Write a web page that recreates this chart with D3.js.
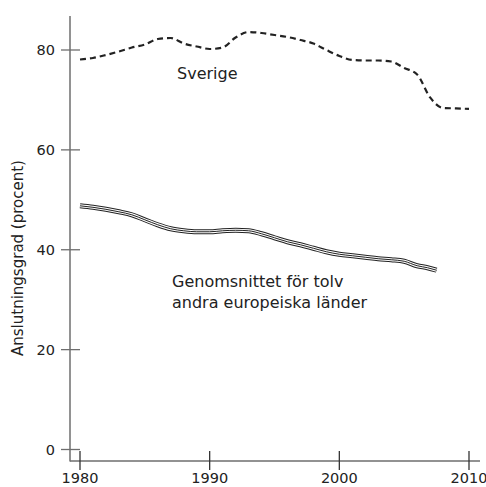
<!DOCTYPE html>
<html>
<head>
<meta charset="utf-8">
<script src="https://d3js.org/d3.v7.min.js"></script>
<style>
  body { margin: 0; background: #fff; }
  text { font-family: "DejaVu Sans", sans-serif; fill: #222; }
</style>
</head>
<body>
<svg id="svg" width="486" height="487"></svg>
<script>
// DATA
const years = d3.range(1980, 2011)
const sverige = [78.1, 78.4, 79.0, 79.7, 80.5, 81.1, 82.2, 82.4, 81.3, 80.7,
                 80.2, 80.5, 82.5, 83.6, 83.4, 83.0, 82.6, 82.0, 81.3, 80.0,
                 78.8, 78.0, 77.9, 77.9, 77.7, 76.4, 75.1, 70.5, 68.4, 68.3, 68.2]
const euroYears = [1980, 1981, 1982, 1983, 1984, 1985, 1986, 1987, 1988, 1989,
                   1990, 1991, 1992, 1993, 1994, 1995, 1996, 1997, 1998, 1999,
                   2000, 2001, 2002, 2003, 2004, 2005, 2006, 2006.8, 2007.5]
const europa = [48.8, 48.5, 48.1, 47.6, 47.0, 46.0, 45.0, 44.2, 43.8, 43.6,
                43.6, 43.8, 43.9, 43.8, 43.2, 42.4, 41.6, 41.0, 40.3, 39.6,
                39.1, 38.8, 38.5, 38.2, 38.0, 37.7, 36.8, 36.4, 35.9]
const xTicks = [1980, 1990, 2000, 2010]
const yTicks = [0, 20, 40, 60, 80]

// SCALES
const x = d3.scaleLinear().domain([1980, 2010]).range([80, 469])
const y = d3.scaleLinear().domain([0, 80]).range([449.5, 50])

const svg = d3.select("#svg")
const axisCol = "#6e6e6e"

// axis lines
svg.append("line").attr("x1", 70).attr("x2", 70).attr("y1", 16).attr("y2", 461.5)
  .attr("stroke", axisCol).attr("stroke-width", 1.5)
svg.append("line").attr("x1", 70).attr("x2", 480).attr("y1", 461).attr("y2", 461)
  .attr("stroke", axisCol).attr("stroke-width", 1.5)

// y ticks
const yt = svg.append("g").selectAll("g").data(yTicks).enter().append("g")
yt.append("line").attr("x1", 61).attr("x2", 80)
  .attr("y1", d => y(d)).attr("y2", d => y(d))
  .attr("stroke", axisCol).attr("stroke-width", 1.3)
yt.append("text").attr("x", 55).attr("y", d => y(d)).attr("dy", "0.36em")
  .attr("text-anchor", "end").style("font-size", "14.5px").text(d => d)

// x ticks
const xt = svg.append("g").selectAll("g").data(xTicks).enter().append("g")
xt.append("line").attr("y1", 451).attr("y2", 470)
  .attr("x1", d => x(d)).attr("x2", d => x(d))
  .attr("stroke", "#333").attr("stroke-width", 1.3)
xt.append("text").attr("x", d => x(d)).attr("y", 483)
  .attr("text-anchor", "middle").style("font-size", "14.5px").text(d => d)

// y label
svg.append("text")
  .attr("transform", "translate(23,258) rotate(-90)")
  .attr("text-anchor", "middle").style("font-size", "15px")
  .text("Anslutningsgrad (procent)")

// LINES
const line = d3.line().curve(d3.curveMonotoneX)
  .x(d => x(d[0])).y(d => y(d[1]))

const sweData = years.map((yr, i) => [yr, sverige[i]])
const euData = euroYears.map((yr, i) => [yr, europa[i]])

svg.append("path").attr("d", line(sweData))
  .attr("fill", "none").attr("stroke", "#222").attr("stroke-width", 2.2)
  .attr("stroke-dasharray", "6,4")

// double line look: black, white, black
svg.append("path").attr("d", line(euData))
  .attr("fill", "none").attr("stroke", "#222").attr("stroke-width", 5)
svg.append("path").attr("d", line(euData))
  .attr("fill", "none").attr("stroke", "#fff").attr("stroke-width", 3)
svg.append("path").attr("d", line(euData))
  .attr("fill", "none").attr("stroke", "#222").attr("stroke-width", 1)

// LABELS
svg.append("text").attr("x", 177).attr("y", 79).style("font-size", "16px").text("Sverige")
svg.append("text").attr("x", 172).attr("y", 287).style("font-size", "16px").text("Genomsnittet för tolv")
svg.append("text").attr("x", 172).attr("y", 308).style("font-size", "16px").text("andra europeiska länder")
</script>
</body>
</html>
